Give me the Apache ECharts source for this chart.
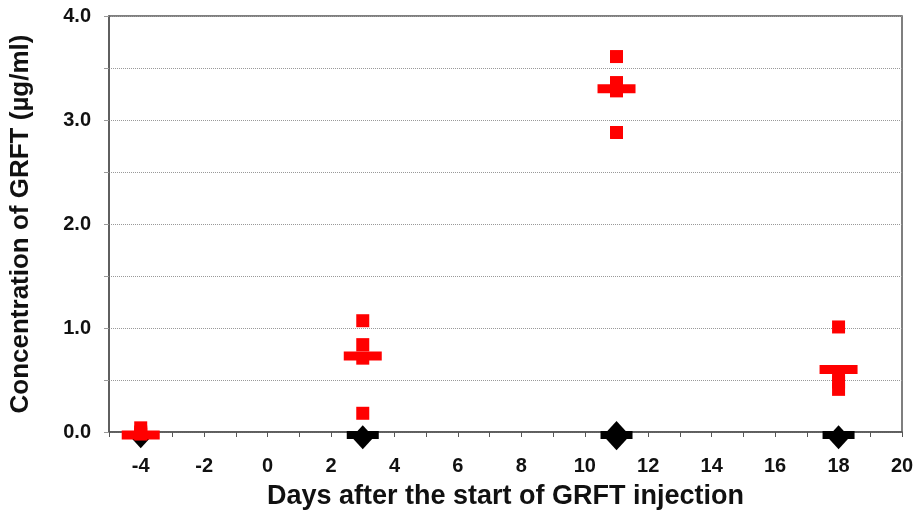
<!DOCTYPE html>
<html>
<head>
<meta charset="utf-8">
<style>
    html, body { margin: 0; padding: 0; background: #fff; }
    #main { width: 917px; height: 524px; }
</style>
</head>
<body>
<div id="main"></div>
<script src="https://cdn.jsdelivr.net/npm/echarts@6/dist/echarts.min.js"></script>
<script type="text/javascript">
    // GRFT group: individual values and mean per day
    var grftPoints = [
        [-4, 0.04], [-4, 0.0], [-4, -0.02],
        [3, 1.07], [3, 0.84], [3, 0.71], [3, 0.18],
        [11, 3.61], [11, 3.36], [11, 3.28], [11, 2.88],
        [18, 1.01], [18, 0.55], [18, 0.48], [18, 0.41]
    ];
    var grftMean = [[-4, -0.03], [3, 0.73], [11, 3.30], [18, 0.60]];

    // control group
    var ctrlPoints = [[-4, -0.04], [3, -0.05], [11, -0.01], [11, -0.06], [18, -0.05]];
    var ctrlMean = [[-4, -0.03], [3, -0.03], [11, -0.03], [18, -0.03]];

    var font = 'Liberation Sans, Arial, sans-serif';

    var myChart = echarts.init(document.getElementById('main'));
    var option = {
        animation: false,
        grid: {
            left: 109,
            right: 15,
            top: 16,
            bottom: 92,
            containLabel: false,
            outerBoundsMode: 'none',
            show: true,
            borderColor: '#555',
            borderWidth: 1.5
        },
        xAxis: {
            type: 'value',
            min: -5,
            max: 20,
            interval: 1,
            name: 'Days after the start of GRFT injection',
            nameLocation: 'middle',
            nameGap: 51,
            nameTextStyle: { fontFamily: font, fontWeight: 'bold', fontSize: 27, color: '#111' },
            axisLine: { onZero: false, lineStyle: { color: '#555', width: 1.5 } },
            axisTick: { show: true, length: 5, lineStyle: { color: '#555' } },
            axisLabel: {
                margin: 24,
                fontFamily: font,
                fontWeight: 'bold',
                fontSize: 20,
                color: '#111',
                formatter: function (v) { return (v % 2 === 0) ? String(v) : ''; }
            },
            splitLine: { show: false }
        },
        yAxis: {
            type: 'value',
            min: 0,
            max: 4,
            interval: 0.5,
            name: 'Concentration of GRFT (µg/ml)',
            nameLocation: 'middle',
            nameGap: 75,
            nameTextStyle: { fontFamily: font, fontWeight: 'bold', fontSize: 26, color: '#111' },
            axisLine: { show: true, onZero: false, lineStyle: { color: '#555', width: 1.5 } },
            axisTick: { show: true, length: 5, lineStyle: { color: '#999' } },
            axisLabel: {
                margin: 18,
                fontFamily: font,
                fontWeight: 'bold',
                fontSize: 20,
                color: '#111',
                formatter: function (v) { return (Math.abs(v % 1) < 1e-9) ? v.toFixed(1) : ''; }
            },
            splitLine: { show: true, lineStyle: { type: 'dotted', color: '#999', width: 1 } }
        },
        series: [
            {
                name: 'control',
                type: 'scatter',
                symbol: 'diamond',
                symbolSize: [22, 24],
                clip: false,
                itemStyle: { color: '#000', opacity: 1 },
                data: ctrlPoints,
                z: 2
            },
            {
                name: 'control mean',
                type: 'scatter',
                symbol: 'rect',
                symbolSize: [32, 8],
                clip: false,
                itemStyle: { color: '#000', opacity: 1 },
                data: ctrlMean,
                z: 2
            },
            {
                name: 'GRFT',
                type: 'scatter',
                symbol: 'rect',
                symbolSize: 13,
                clip: false,
                itemStyle: { color: '#ff0000', opacity: 1 },
                data: grftPoints,
                z: 3
            },
            {
                name: 'GRFT mean',
                type: 'scatter',
                symbol: 'rect',
                symbolSize: [38, 9],
                clip: false,
                itemStyle: { color: '#ff0000', opacity: 1 },
                data: grftMean,
                z: 3
            }
        ]
    };

    myChart.setOption(option);
</script>
</body>
</html>
